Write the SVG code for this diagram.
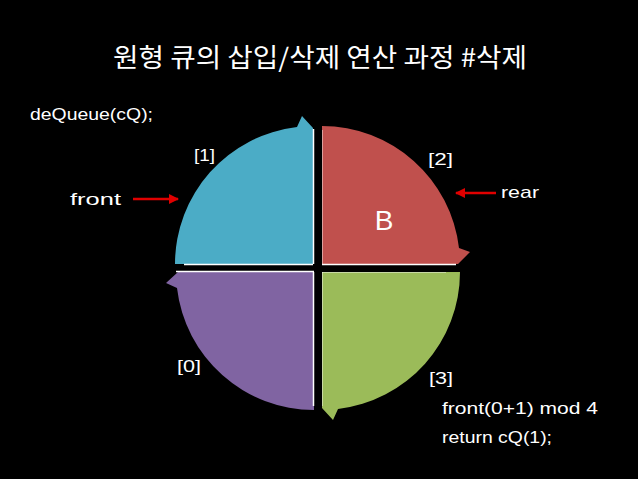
<svg xmlns="http://www.w3.org/2000/svg" width="638" height="479" viewBox="0 0 638 479">
<style>
.t{font-family:"Liberation Sans","Noto Sans",sans-serif;fill:#fff}
.k{font-family:"Noto Sans CJK KR","Noto Sans",sans-serif;fill:#fff}
.edge{stroke:#fff;stroke-width:1.5;fill:none}
.faint{stroke:#fff;stroke-width:1;opacity:0.45;fill:none}
.arr{stroke:#e00000;stroke-width:2.5;fill:none}
</style>
<defs>
<marker id="ah" viewBox="0 0 10 10" refX="9" refY="5" markerWidth="4" markerHeight="4" orient="auto-start-reverse" markerUnits="strokeWidth">
<path d="M0,0 L10,5 L0,10 Z" fill="#e00000"/>
</marker>
</defs>
<rect x="0" y="0" width="638" height="479" fill="#000"/>
<text class="k" x="320" y="67" font-size="26" text-anchor="middle" textLength="414" lengthAdjust="spacingAndGlyphs">원형 큐의 삽입/삭제 연산 과정 #삭제</text>
<text class="t" x="30" y="120" font-size="17" textLength="123" lengthAdjust="spacingAndGlyphs">deQueue(cQ);</text>

<g id="q1-blue">
<path d="M313,264 L175,264 A138,138 0 0 1 297,127 L302,116 L313,128 Z" fill="#4BACC6"/>
<line class="edge" x1="313.5" y1="129" x2="313.5" y2="264"/>
<line class="edge" x1="184" y1="264.5" x2="313" y2="264.5"/>
<text class="t" x="194" y="161" font-size="17" textLength="21" lengthAdjust="spacingAndGlyphs">[1]</text>
</g>
<g id="q2-red">
<path d="M322,264 L322,126 A138,138 0 0 1 459,248 L470,252 L458,264 Z" fill="#C0504D"/>
<line class="faint" x1="322.5" y1="130" x2="322.5" y2="264"/>
<line class="edge" x1="322" y1="264.5" x2="456" y2="264.5"/>
<text class="t" x="428" y="165" font-size="17" textLength="25" lengthAdjust="spacingAndGlyphs">[2]</text>
<text class="t" x="384" y="230" font-size="28" text-anchor="middle">B</text>
</g>
<g id="q3-green">
<path d="M322,272 L460,272 A138,138 0 0 1 338,409 L333,420 L322,408 Z" fill="#9BBB59"/>
<line class="faint" x1="322" y1="272.5" x2="446" y2="272.5"/>
<line class="faint" x1="322.5" y1="272" x2="322.5" y2="406"/>
<text class="t" x="429" y="384" font-size="17" textLength="24" lengthAdjust="spacingAndGlyphs">[3]</text>
</g>
<g id="q0-purple">
<path d="M314,272 L314,410 A138,138 0 0 1 177,288 L166,283 L178,272 Z" fill="#8064A2"/>
<line class="edge" x1="176" y1="271.5" x2="314" y2="271.5"/>
<line class="edge" x1="313.5" y1="272" x2="313.5" y2="406"/>
<text class="t" x="177" y="372" font-size="17" textLength="24" lengthAdjust="spacingAndGlyphs">[0]</text>
</g>

<g id="pointers">
<text class="t" x="70" y="205" font-size="17" textLength="51" lengthAdjust="spacingAndGlyphs">front</text>
<text class="t" x="501" y="198" font-size="17" textLength="38" lengthAdjust="spacingAndGlyphs">rear</text>
</g>
<g id="connectors">
<line class="arr" x1="133" y1="199" x2="178" y2="199" marker-end="url(#ah)"/>
<line class="arr" x1="496" y1="193" x2="456" y2="193" marker-end="url(#ah)"/>
</g>

<text class="t" x="442" y="414" font-size="17" textLength="156" lengthAdjust="spacingAndGlyphs">front(0+1) mod 4</text>
<text class="t" x="442" y="443" font-size="17" textLength="110" lengthAdjust="spacingAndGlyphs">return cQ(1);</text>
</svg>
